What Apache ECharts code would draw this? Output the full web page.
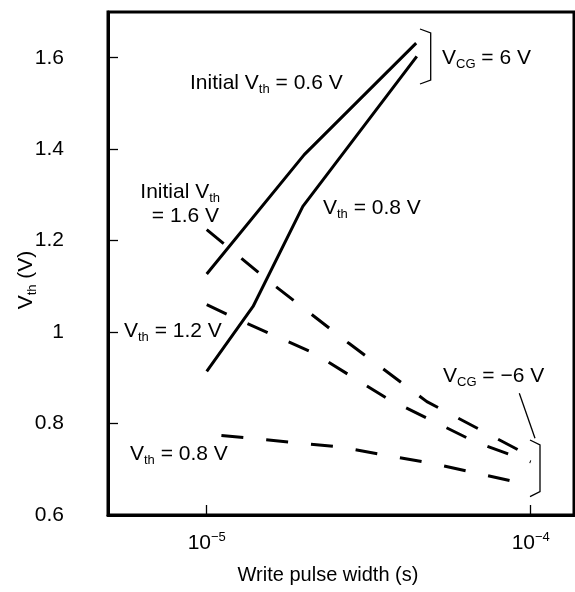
<!DOCTYPE html>
<html>
<head>
<meta charset="utf-8">
<script src="https://cdn.jsdelivr.net/npm/echarts@6/dist/echarts.min.js"></script>
<style>html,body{margin:0;padding:0;background:#fff}#main{width:575px;height:592px}</style>
</head>
<body>
<div id="main"></div>
<script>
// threshold voltage (V) against write pulse width (s)
var posInit06 = [[1e-5, 1.127], [2e-5, 1.388], [4.43e-5, 1.632]];
var posInit08 = [[1e-5, 0.914], [1.39e-5, 1.056], [1.98e-5, 1.275], [4.45e-5, 1.603]];
var negInit16 = [[1e-5, 1.224], [1.61e-5, 1.103], [2.74e-5, 0.976], [4.78e-5, 0.848], [1e-4, 0.728]];
var negInit12 = [[1e-5, 1.06], [1.3e-5, 1.022], [2.13e-5, 0.955], [3.6e-5, 0.855], [6.73e-5, 0.76], [1e-4, 0.716]];
var negInit08 = [[1.11e-5, 0.774], [2.56e-5, 0.749], [5.04e-5, 0.712], [9.9e-5, 0.666]];

var xTicks = [1e-5, 1e-4];
var xTickLabels = ['{b|10}{e|\u22125}', '{b|10}{e|\u22124}'];

var FONT = '"Liberation Sans", Arial, sans-serif';

function makeLine(name, data, dashed) {
    return {
        name: name,
        type: 'line',
        data: data,
        symbol: 'none',
        silent: true,
        lineStyle: { color: '#000', width: 3, type: dashed ? [22, 23] : 'solid' }
    };
}

var richText = {
    a: { fontSize: 21, fontFamily: FONT, color: '#000', lineHeight: 25 },
    s: { fontSize: 13, fontFamily: FONT, color: '#000', lineHeight: 13, verticalAlign: 'bottom' }
};

function note(x, y, text, align) {
    return {
        type: 'text',
        x: x,
        y: y,
        style: { text: text, rich: richText, align: align || 'left', verticalAlign: 'middle' }
    };
}

function bracket(points) {
    return {
        type: 'polyline',
        shape: { points: points },
        style: { stroke: '#000', lineWidth: 1.3, fill: null }
    };
}

var chartDom = document.getElementById('main');
var myChart = echarts.init(chartDom);
var option;

option = {
    animation: false,
    backgroundColor: '#fff',
    grid: {
        left: 108, right: 1, top: 12, bottom: 77,
        show: true, borderColor: '#000', borderWidth: 3,
        containLabel: false, outerBoundsMode: 'none'
    },
    xAxis: {
        type: 'log',
        logBase: 10,
        min: 4.958e-6,
        max: 1.36e-4,
        axisLine: { lineStyle: { color: '#000', width: 3 } },
        axisTick: { inside: true, length: 10, lineStyle: { color: '#000', width: 1.3 }, customValues: xTicks },
        minorTick: { show: false },
        splitLine: { show: false },
        axisLabel: {
            customValues: xTicks,
            margin: 16,
            formatter: function (v) {
                var i = xTicks.findIndex(function (t) { return Math.abs(Math.log10(t) - Math.log10(v)) < 1e-6; });
                return i < 0 ? '' : xTickLabels[i];
            },
            rich: {
                b: { fontSize: 21, fontFamily: FONT, color: '#000', lineHeight: 25 },
                e: { fontSize: 13, fontFamily: FONT, color: '#000', lineHeight: 15, verticalAlign: 'top' }
            }
        }
    },
    yAxis: {
        type: 'value',
        min: 0.6,
        max: 1.7,
        interval: 0.2,
        axisLine: { show: true, lineStyle: { color: '#000', width: 3 } },
        axisTick: { show: true, inside: true, length: 10, lineStyle: { color: '#000', width: 1.3 } },
        splitLine: { show: false },
        axisLabel: {
            showMaxLabel: false,
            margin: 44,
            color: '#000',
            fontSize: 21,
            fontFamily: FONT
        }
    },
    series: [
        makeLine('Initial Vth 0.6 V, VCG 6 V', posInit06, false),
        makeLine('Initial Vth 0.8 V, VCG 6 V', posInit08, false),
        makeLine('Initial Vth 1.6 V, VCG -6 V', negInit16, true),
        makeLine('Initial Vth 1.2 V, VCG -6 V', negInit12, true),
        makeLine('Initial Vth 0.8 V, VCG -6 V', negInit08, true)
    ],
    graphic: [
        note(190, 83, '{a|Initial V}{s|th}{a| = 0.6 V}'),
        note(220, 192, '{a|Initial V}{s|th}', 'right'),
        note(219, 216, '{a|= 1.6 V}', 'right'),
        note(323, 208, '{a|V}{s|th}{a| = 0.8 V}'),
        note(124, 331, '{a|V}{s|th}{a| = 1.2 V}'),
        note(130, 454, '{a|V}{s|th}{a| = 0.8 V}'),
        note(442, 58, '{a|V}{s|CG}{a| = 6 V}'),
        note(443, 376, '{a|V}{s|CG}{a| = \u22126 V}'),
        bracket([[420, 29], [430.7, 33], [430.7, 80], [420, 84]]),
        bracket([[530, 440], [540, 445], [540, 491.7], [530, 496.7]]),
        bracket([[519.3, 393.3], [535, 438.3]]),
        {
            type: 'text',
            x: 328, y: 575,
            style: { text: 'Write pulse width (s)', fill: '#000', font: '20px ' + FONT, align: 'center', verticalAlign: 'middle' }
        },
        {
            type: 'text',
            x: 26, y: 280,
            rotation: Math.PI / 2,
            style: { text: '{a|V}{s|th}{a| (V)}', rich: richText, align: 'center', verticalAlign: 'middle' }
        }
    ]
};

option && myChart.setOption(option);
</script>
</body>
</html>
